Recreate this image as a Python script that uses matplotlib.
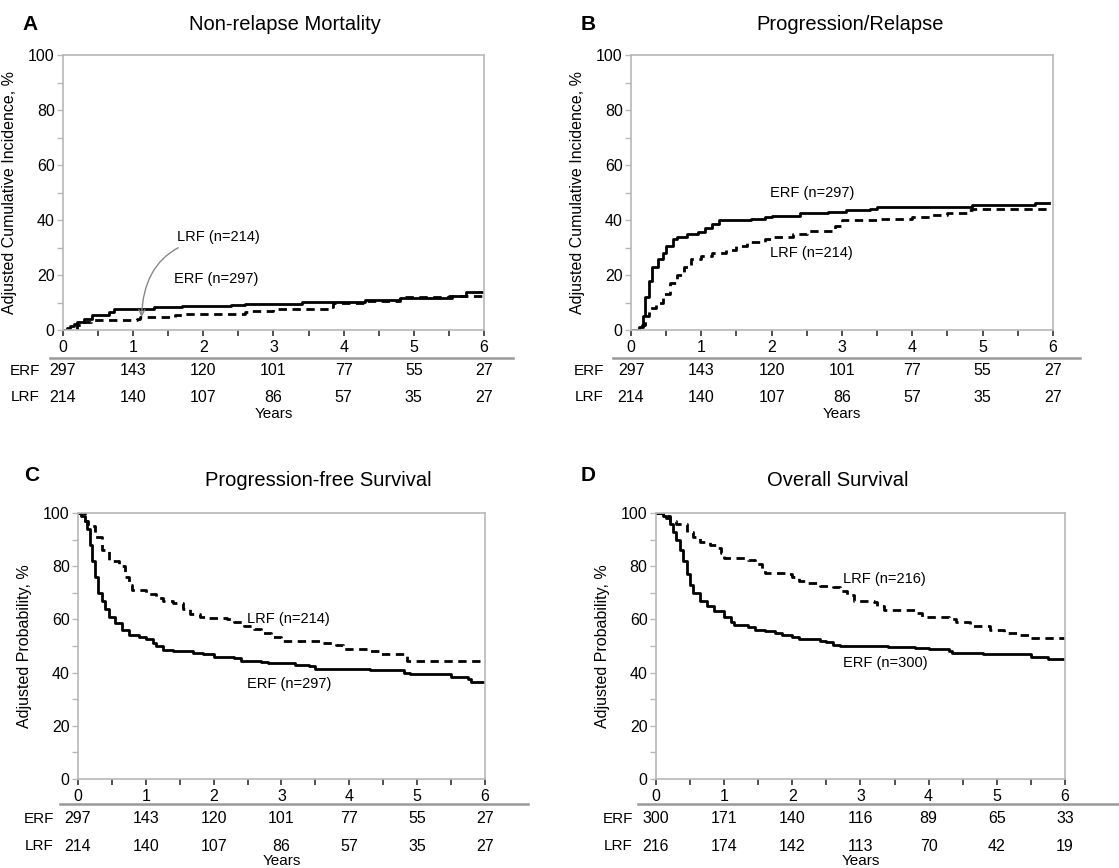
import matplotlib
matplotlib.use("Agg")
import matplotlib.pyplot as plt
from matplotlib.lines import Line2D

plt.rcParams["font.family"] = ["Liberation Sans", "DejaVu Sans"]

years = [0, 1, 2, 3, 4, 5, 6]

# A: non-relapse mortality (cumulative incidence, %)
nrm_erf_t = [0, 0.05, 0.1, 0.15, 0.2, 0.3, 0.42, 0.65, 0.72, 1.3, 1.7, 2.4, 2.6, 3.4, 4.3, 4.8, 5.55, 5.75, 6.0]
nrm_erf_y = [0, 0.8, 1.5, 2.2, 3.0, 4.0, 5.6, 6.5, 7.5, 8.2, 8.7, 9.2, 9.6, 10.2, 11.0, 11.6, 12.5, 14.0, 14.0]
nrm_lrf_t = [0, 0.12, 0.2, 0.3, 0.4, 1.05, 1.1, 1.6, 1.7, 2.6, 2.65, 3.0, 3.8, 3.85, 4.3, 4.8, 5.5, 5.75, 6.0]
nrm_lrf_y = [0, 0.5, 1.8, 3.0, 3.6, 4.0, 4.8, 5.4, 6.0, 6.5, 7.0, 7.6, 8.2, 10.0, 10.5, 12.0, 12.3, 12.2, 12.2]

# B: progression / relapse
rel_erf_t = [0, 0.12, 0.17, 0.2, 0.25, 0.3, 0.38, 0.45, 0.5, 0.6, 0.65, 0.8, 0.95, 1.05, 1.15, 1.25, 1.7, 1.9, 2.0,
             2.4, 2.8, 3.05, 3.4, 3.5, 4.85, 5.75, 5.95]
rel_erf_y = [0, 1, 5, 12, 18, 23, 26, 28, 30.5, 33, 34, 35, 35.5, 37, 38.5, 40, 40.2, 41, 41.6,
             42.6, 43, 43.6, 44, 44.6, 45.3, 46.3, 46.3]
rel_lrf_t = [0, 0.15, 0.2, 0.25, 0.35, 0.45, 0.55, 0.65, 0.75, 0.85, 1.0, 1.15, 1.35, 1.5, 1.65, 1.9, 2.0,
             2.3, 2.5, 2.9, 3.0, 3.5, 4.0, 4.25, 4.5, 4.8, 4.85, 5.95]
rel_lrf_y = [0, 2, 5, 8, 10, 13, 17, 20, 23, 26, 27, 28, 29, 30.5, 32, 33, 34,
             35, 36, 38, 40, 40.5, 41, 42, 42.5, 43.5, 44, 44]

# C: progression-free survival (%)
pfs_erf_t = [0, 0.05, 0.1, 0.13, 0.17, 0.2, 0.25, 0.3, 0.35, 0.4, 0.45, 0.55, 0.65, 0.75, 0.9, 1.0, 1.1, 1.15, 1.25,
             1.4, 1.7, 1.85, 2.0, 2.3, 2.4, 2.7, 2.8, 3.2, 3.4, 3.5, 4.3, 4.8, 4.9, 5.5, 5.75, 5.8, 6.0]
pfs_erf_y = [100, 99, 97, 94, 88, 82, 76, 70, 67, 64, 61, 58.5, 56, 54, 53.5, 52.5, 51, 50, 48.5,
             48, 47.5, 47, 46, 45.5, 44.5, 44, 43.5, 43, 42.5, 41.5, 41, 40, 39.5, 38.5, 37.5, 36.5, 36.5]
pfs_lrf_t = [0, 0.1, 0.15, 0.25, 0.35, 0.45, 0.6, 0.7, 0.75, 0.8, 1.0, 1.15, 1.25, 1.4, 1.55, 1.65, 1.8, 1.9, 2.2,
             2.3, 2.45, 2.6, 2.7, 2.85, 3.0, 3.6, 3.8, 3.9, 4.3, 4.45, 4.8, 4.85, 6.0]
pfs_lrf_y = [100, 97, 95, 91, 86, 82, 80, 76, 73, 71, 69.5, 68, 67, 66, 64, 62, 61, 60.5, 60,
             59, 57.5, 56.5, 55, 53.5, 52, 51, 50.5, 49, 48, 47, 46.5, 44.5, 44.3]

# D: overall survival (%)
os_erf_t = [0, 0.1, 0.15, 0.2, 0.25, 0.3, 0.35, 0.4, 0.45, 0.5, 0.55, 0.65, 0.75, 0.85, 1.0, 1.1, 1.15, 1.35, 1.45,
            1.6, 1.75, 1.85, 2.0, 2.1, 2.4, 2.5, 2.6, 2.7, 3.4, 3.8, 4.0, 4.3, 4.35, 4.8, 5.5, 5.75, 6.0]
os_erf_y = [100, 99, 98, 96, 93, 90, 86, 82, 77, 73, 70, 67, 65, 63, 61, 59, 58, 57, 56,
            55.5, 55, 54, 53.5, 52.5, 52, 51.5, 50.5, 50, 49.5, 49.3, 49, 48, 47.5, 47, 46, 45, 45]
os_lrf_t = [0, 0.1, 0.2, 0.3, 0.45, 0.55, 0.65, 0.8, 0.9, 0.95, 1.0, 1.35, 1.45, 1.55, 1.6, 1.9, 2.0, 2.1, 2.2,
            2.4, 2.6, 2.7, 2.8, 2.9, 3.2, 3.25, 3.35, 3.8, 3.9, 4.3, 4.4, 4.6, 4.9, 5.1, 5.3, 5.5, 6.0]
os_lrf_y = [100, 99, 97, 96, 93, 91, 89, 88, 87, 85, 83, 82.5, 81, 79, 77.5, 77, 76, 74.5, 73.5,
            72.5, 72, 70.5, 69, 67, 66.5, 65, 63.5, 62.5, 61, 60, 59, 57.5, 56, 55, 54, 53, 53]

# numbers at risk
risk_erf_a = [297, 143, 120, 101, 77, 55, 27]
risk_lrf_a = [214, 140, 107, 86, 57, 35, 27]
risk_erf_d = [300, 171, 140, 116, 89, 65, 33]
risk_lrf_d = [216, 174, 142, 113, 70, 42, 19]

GRAY = "#b8b8b8"


def panel(fig, rect, erf, lrf, ylabel, risk_erf, risk_lrf, tbl, ylab_x):
    ax = fig.add_axes(rect)
    ax.plot(erf[0], erf[1], drawstyle="steps-post", color="black", lw=2)
    ax.plot(lrf[0], lrf[1], drawstyle="steps-post", color="black", lw=2, dashes=(3, 2))
    ax.set_xlim(0, 6)
    ax.set_ylim(0, 100)
    for s in ax.spines.values():
        s.set_color(GRAY)
        s.set_linewidth(1.2)
    ax.set_xticks(years)
    ax.set_xticks([0.5, 1.5, 2.5, 3.5, 4.5, 5.5], minor=True)
    ax.set_yticks(range(0, 101, 20))
    ax.set_yticks(range(10, 100, 20), minor=True)
    ax.tick_params(axis="x", which="both", direction="out", length=4, width=1.2, color="#333333",
                   labelsize=11.5, pad=3)
    ax.tick_params(axis="y", which="both", direction="out", length=4, width=1, color=GRAY,
                   labelsize=11.5, pad=2)
    ax.set_ylabel(ylabel, fontsize=11.5)
    ax.yaxis.set_label_coords(ylab_x, 0.5)

    line_y, erf_y, lrf_y, yrs_y, lab_x, x0, x1 = tbl
    tr = ax.get_xaxis_transform()
    ax.add_line(Line2D([x0, x1], [line_y, line_y], transform=tr, color="#999999", lw=1.8, clip_on=False))
    ax.text(lab_x, erf_y, "ERF", transform=tr, ha="center", va="center", fontsize=11)
    ax.text(lab_x, lrf_y, "LRF", transform=tr, ha="center", va="center", fontsize=11)
    for x, a, b in zip(years, risk_erf, risk_lrf):
        ax.text(x, erf_y, str(a), transform=tr, ha="center", va="center", fontsize=11.5)
        ax.text(x, lrf_y, str(b), transform=tr, ha="center", va="center", fontsize=11.5)
    ax.text(3, yrs_y, "Years", transform=tr, ha="center", va="center", fontsize=11)
    return ax


fig = plt.figure(figsize=(11.19, 8.68), dpi=100)

ci_label = "Adjusted Cumulative Incidence, %"
pr_label = "Adjusted Probability, %"

axA = panel(fig, [0.0563, 0.6198, 0.3762, 0.3168], (nrm_erf_t, nrm_erf_y), (nrm_lrf_t, nrm_lrf_y),
            ci_label, risk_erf_a, risk_lrf_a, (-0.102, -0.149, -0.244, -0.305, -0.54, -0.185, 6.41), -0.109)
axB = panel(fig, [0.5639, 0.6198, 0.3771, 0.3168], (rel_erf_t, rel_erf_y), (rel_lrf_t, rel_lrf_y),
            ci_label, risk_erf_a, risk_lrf_a, (-0.102, -0.149, -0.244, -0.305, -0.6, -0.26, 6.39), -0.109)
axC = panel(fig, [0.0697, 0.1025, 0.3637, 0.3065], (pfs_erf_t, pfs_erf_y), (pfs_lrf_t, pfs_lrf_y),
            pr_label, risk_erf_a, risk_lrf_a, (-0.094, -0.150, -0.252, -0.308, -0.58, -0.27, 6.64), -0.113)
axD = panel(fig, [0.5862, 0.1025, 0.3655, 0.3065], (os_erf_t, os_erf_y), (os_lrf_t, os_lrf_y),
            pr_label, risk_erf_d, risk_lrf_d, (-0.094, -0.150, -0.252, -0.308, -0.56, -0.26, 6.79), -0.112)

# curve labels
axA.annotate("LRF (n=214)", xy=(1.12, 4.7), xytext=(1.62, 33.7), fontsize=10.5, va="center", ha="left",
             arrowprops=dict(arrowstyle="->", color="#888888", lw=1, shrinkA=1, shrinkB=0,
                             connectionstyle="arc3,rad=0.45"))
axA.text(1.58, 18.4, "ERF (n=297)", fontsize=10.5, va="center")
axB.text(1.98, 49.7, "ERF (n=297)", fontsize=10.5, va="center")
axB.text(1.98, 27.9, "LRF (n=214)", fontsize=10.5, va="center")
axC.text(2.49, 60.2, "LRF (n=214)", fontsize=10.5, va="center")
axC.text(2.49, 35.8, "ERF (n=297)", fontsize=10.5, va="center")
axD.text(2.75, 75.1, "LRF (n=216)", fontsize=10.5, va="center")
axD.text(2.75, 43.5, "ERF (n=300)", fontsize=10.5, va="center")

# titles and panel letters
W, H = 1119, 868
titles = ["Non-relapse Mortality", "Progression/Relapse", "Progression-free Survival", "Overall Survival"]
title_xy = [(285, 25), (850, 25), (318, 481), (838, 481)]
letters = ["A", "B", "C", "D"]
letter_xy = [(30, 25), (588, 25), (32, 476), (588, 476)]
for t, (x, y) in zip(titles, title_xy):
    fig.text(x / W, 1 - y / H, t, ha="center", va="center", fontsize=14.5)
for t, (x, y) in zip(letters, letter_xy):
    fig.text(x / W, 1 - y / H, t, ha="center", va="center", fontsize=15, fontweight="bold")

fig.savefig("out.png", dpi=100)
